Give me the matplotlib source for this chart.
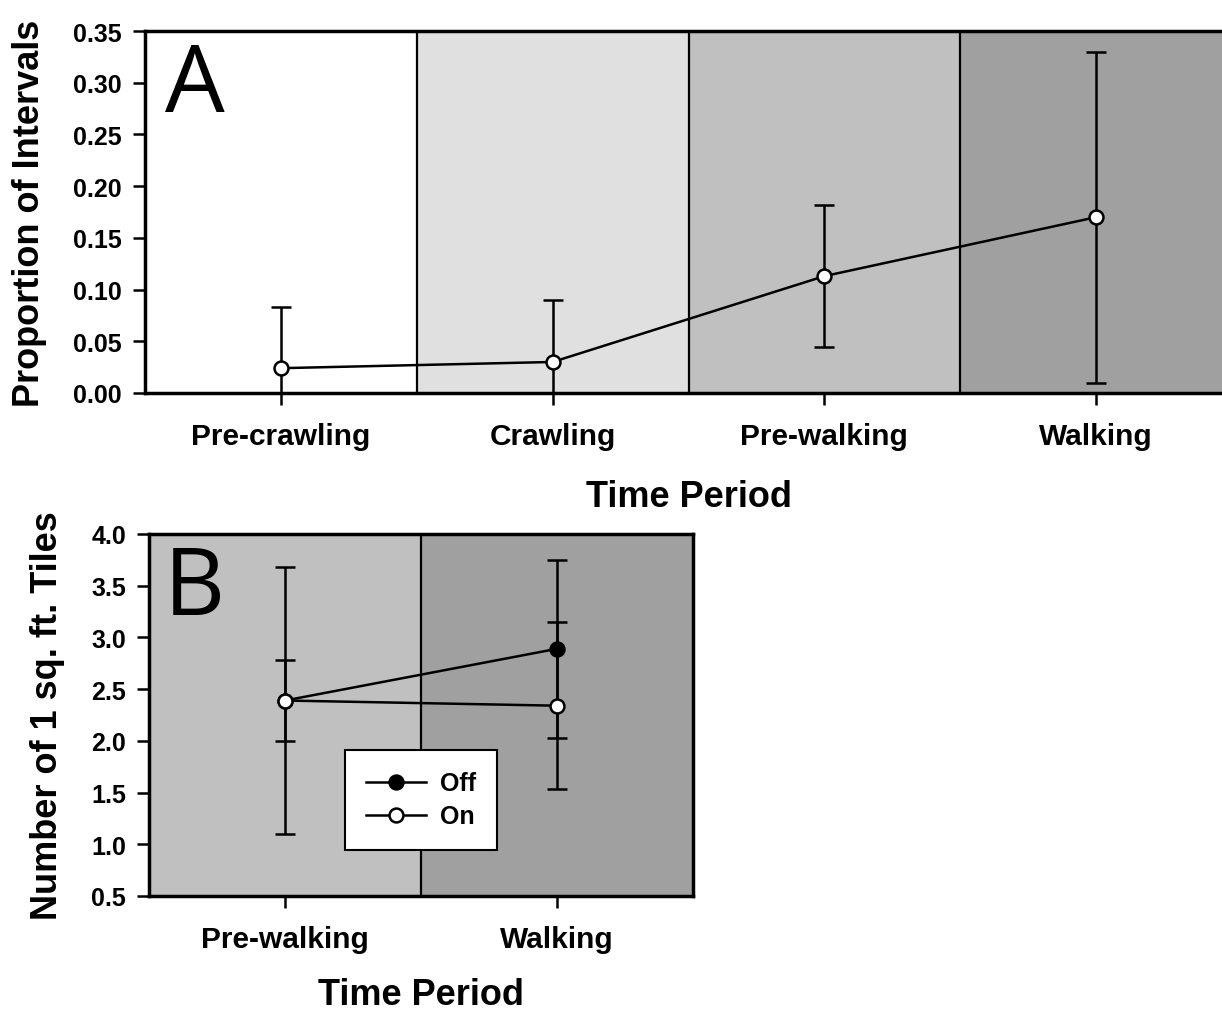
import matplotlib
matplotlib.use("Agg")
import matplotlib.pyplot as plt
from matplotlib.lines import Line2D
import numpy as np

# ---- Data ----
periods_a = ["Pre-crawling", "Crawling", "Pre-walking", "Walking"]
prop_mean = [0.024, 0.030, 0.113, 0.170]
prop_err = [0.059, 0.060, 0.069, 0.160]
bg_a = ["#ffffff", "#e0e0e0", "#c0c0c0", "#a0a0a0"]

periods_b = ["Pre-walking", "Walking"]
off_mean = [2.39, 2.89]
off_err = [1.29, 0.86]
on_mean = [2.39, 2.34]
on_err = [0.39, 0.81]
bg_b = ["#c0c0c0", "#a0a0a0"]

W, H = 1222, 1012
fig = plt.figure(figsize=(W / 100, H / 100), dpi=100)
plt.rcParams['font.family'] = ['Liberation Sans', 'DejaVu Sans']


def ax_rect(l, t, r, b):
    return [l / W, 1 - b / H, (r - l) / W, (b - t) / H]


tick_fs = 18
xtick_fs = 21.5
label_fs = 26


def style(ax):
    for s in ax.spines.values():
        s.set_linewidth(2.5)
        s.set_zorder(10)
    ax.tick_params(axis='both', which='major', direction='out', length=8.6, width=1.8)
    ax.tick_params(axis='y', labelsize=tick_fs, pad=8)
    ax.tick_params(axis='x', labelsize=xtick_fs, pad=12)
    for lab in ax.get_xticklabels() + ax.get_yticklabels():
        lab.set_fontweight('bold')


# ---- Panel A ----
axA = fig.add_axes(ax_rect(145, 32, 1232, 394))
xa = np.arange(len(periods_a))
for i, c in enumerate(bg_a):
    axA.axvspan(i - 0.5, i + 0.5, color=c, zorder=0, lw=0)
for i in range(1, len(periods_a)):
    axA.axvline(i - 0.5, color='black', lw=1.6, zorder=1)
axA.errorbar(xa, prop_mean, yerr=prop_err, color='black', lw=1.8, capsize=7.2, capthick=1.8,
             marker='o', ms=10, mfc='white', mec='black', mew=1.8, zorder=5)
axA.set_xlim(-0.5, 3.5)
axA.set_ylim(0, 0.35)
axA.set_yticks(np.arange(0, 0.351, 0.05))
axA.yaxis.set_major_formatter(matplotlib.ticker.FormatStrFormatter('%.2f'))
axA.set_xticks(xa)
axA.set_xticklabels(periods_a)
axA.set_ylabel("Proportion of Intervals", fontsize=label_fs, fontweight='bold')
axA.set_xlabel("Time Period", fontsize=label_fs, fontweight='bold')
axA.xaxis.set_label_coords(0.5, -(507 - 394) / 362)
axA.xaxis.label.set_va('baseline')
axA.yaxis.set_label_coords((30 - 145) / 1087, 0.5)
axA.yaxis.label.set_va('center')
style(axA)
axA.text(0.018, 0.975, "A", transform=axA.transAxes, fontsize=68, family='Open Sans',
         va='top', ha='left', zorder=11)

# ---- Panel B ----
axB = fig.add_axes(ax_rect(149, 535, 693, 897))
xb = np.arange(len(periods_b))
for i, c in enumerate(bg_b):
    axB.axvspan(i - 0.5, i + 0.5, color=c, zorder=0, lw=0)
axB.axvline(0.5, color='black', lw=1.6, zorder=1)
axB.errorbar(xb, off_mean, yerr=off_err, color='black', lw=1.8, capsize=7.2, capthick=1.8,
             marker='o', ms=10, mfc='black', mec='black', mew=1.8, zorder=5)
axB.errorbar(xb, on_mean, yerr=on_err, color='black', lw=1.8, capsize=7.2, capthick=1.8,
             marker='o', ms=10, mfc='white', mec='black', mew=1.8, zorder=6)
axB.set_xlim(-0.5, 1.5)
axB.set_ylim(0.5, 4.0)
axB.set_yticks(np.arange(0.5, 4.01, 0.5))
axB.yaxis.set_major_formatter(matplotlib.ticker.FormatStrFormatter('%.1f'))
axB.set_xticks(xb)
axB.set_xticklabels(periods_b)
axB.set_ylabel("Number of 1 sq. ft. Tiles", fontsize=label_fs, fontweight='bold')
axB.set_xlabel("Time Period", fontsize=label_fs, fontweight='bold')
axB.xaxis.set_label_coords(0.5, -(1005 - 897) / 362)
axB.xaxis.label.set_va('baseline')
axB.yaxis.set_label_coords((48 - 149) / 544, 0.5)
axB.yaxis.label.set_va('center')
style(axB)
axB.text(0.028, 0.975, "B", transform=axB.transAxes, fontsize=68, family='Open Sans',
         va='top', ha='left', zorder=11)

handles = [Line2D([0], [0], color='black', lw=1.8, marker='o', ms=10, mfc='black', mec='black', mew=1.8),
           Line2D([0], [0], color='black', lw=1.8, marker='o', ms=10, mfc='white', mec='black', mew=1.8)]
leg = axB.legend(handles, ["Off", "On"], loc='upper left',
                 bbox_to_anchor=((345 - 149) / 544, (897 - 751) / 362),
                 frameon=True, fancybox=False, edgecolor='black', framealpha=1,
                 prop={'weight': 'bold', 'size': 18}, handlelength=2.4, borderpad=0.85,
                 labelspacing=0.36, handletextpad=0.55, borderaxespad=0)
leg.get_frame().set_linewidth(1.5)
leg.set_zorder(12)

fig.savefig("out.png", dpi=100)
